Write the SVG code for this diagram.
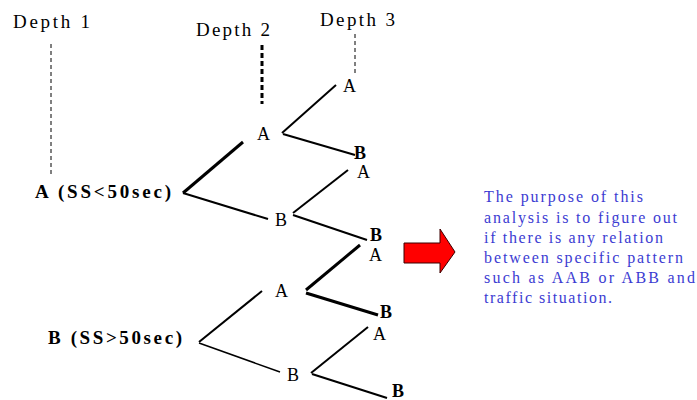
<svg xmlns="http://www.w3.org/2000/svg" width="697" height="400" viewBox="0 0 697 400">
<style>
text{font-family:"Liberation Serif","Times New Roman",serif;fill:#000}
.hd{font-size:19px}
.n{font-size:18px}
.nb{font-size:18px;font-weight:bold}
.root{font-size:19px;font-weight:bold}
.blue{font-size:16px;fill:#3c3cd2}
.e{stroke:#000;fill:none;stroke-linecap:butt}
.w2{stroke-width:2}
.w3{stroke-width:3}
</style>
<rect width="697" height="400" fill="#fff"/>
<g id="depth-labels">
<text class="hd" x="13" y="28" textLength="77" lengthAdjust="spacing">Depth 1</text>
<text class="hd" x="196" y="36" textLength="74" lengthAdjust="spacing">Depth 2</text>
<text class="hd" x="320" y="26" textLength="75" lengthAdjust="spacing">Depth 3</text>
<line x1="51" y1="44" x2="51" y2="175" stroke="#000" stroke-width="1" stroke-dasharray="4,3"/>
<line x1="262" y1="45" x2="262" y2="104" stroke="#000" stroke-width="3" stroke-dasharray="5,3"/>
<line x1="355" y1="34" x2="355" y2="76" stroke="#000" stroke-width="1" stroke-dasharray="4,3"/>
</g>
<g id="connectors">
<line class="e w3" x1="183" y1="193" x2="243" y2="142"/>
<line class="e w2" x1="183" y1="193" x2="268" y2="219"/>
<line class="e w2" x1="282" y1="133" x2="336" y2="85"/>
<line class="e w2" x1="283" y1="134" x2="355" y2="155"/>
<line class="e w2" x1="293" y1="213" x2="348" y2="170"/>
<line class="e w2" x1="293" y1="215" x2="367" y2="240"/>
<line class="e w3" x1="306" y1="290" x2="360" y2="245"/>
<line class="e w3" x1="306" y1="293" x2="378" y2="315"/>
<line class="e w2" x1="199" y1="342" x2="262" y2="291"/>
<line class="e" stroke-width="1.5" x1="199" y1="343" x2="280" y2="372"/>
<line class="e w2" x1="311" y1="373" x2="368" y2="327"/>
<line class="e w2" x1="312" y1="374" x2="387" y2="398"/>
</g>
<g id="root-A"><text class="root" x="35" y="198" textLength="136" lengthAdjust="spacing">A (SS&lt;50sec)</text></g>
<g id="root-B"><text class="root" x="48" y="344" textLength="134" lengthAdjust="spacing">B (SS&gt;50sec)</text></g>
<g id="d2-A1"><text class="n" x="257" y="140">A</text></g>
<g id="d2-B1"><text class="n" x="275" y="226">B</text></g>
<g id="d2-A2"><text class="n" x="275" y="297">A</text></g>
<g id="d2-B2"><text class="n" x="287" y="381">B</text></g>
<g id="d3-AA"><text class="n" x="343" y="92">A</text></g>
<g id="d3-AB"><text class="nb" x="354" y="159">B</text></g>
<g id="d3-BA"><text class="n" x="357" y="178">A</text></g>
<g id="d3-BB"><text class="nb" x="370" y="241">B</text></g>
<g id="d3-AA2"><text class="n" x="369" y="261">A</text></g>
<g id="d3-AB2"><text class="nb" x="380" y="318">B</text></g>
<g id="d3-BA2"><text class="n" x="373" y="340">A</text></g>
<g id="d3-BB2"><text class="nb" x="392" y="397">B</text></g>
<g id="arrow">
<polygon points="404,243 440,243 440,229 455,252 440,273 440,263 404,263" fill="#ff0000" stroke="#3a0000" stroke-width="1"/>
</g>
<g id="note">
<text class="blue" x="484" y="202" textLength="159" lengthAdjust="spacing">The purpose of this</text>
<text class="blue" x="484" y="223" textLength="193" lengthAdjust="spacing">analysis is to figure out</text>
<text class="blue" x="484" y="243" textLength="179" lengthAdjust="spacing">if there is any relation</text>
<text class="blue" x="484" y="263" textLength="199" lengthAdjust="spacing">between specific pattern</text>
<text class="blue" x="484" y="283" textLength="211" lengthAdjust="spacing">such as AAB or ABB and</text>
<text class="blue" x="484" y="303" textLength="128" lengthAdjust="spacing">traffic situation.</text>
</g>
</svg>
